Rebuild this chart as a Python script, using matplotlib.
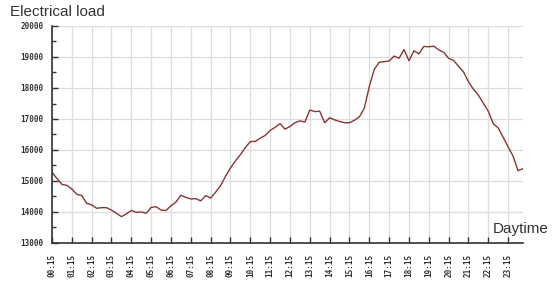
import matplotlib
matplotlib.use("Agg")
import matplotlib.pyplot as plt
from matplotlib.ticker import MultipleLocator
import numpy as np

# quarter-hour time stamps (hours) from 00:15 to 24:00
times = np.arange(1, 97) * 0.25
load = [15280, 15080, 14890, 14860, 14740, 14570, 14530, 14280, 14230, 14120,
        14140, 14140, 14060, 13960, 13850, 13940, 14050, 13990, 14000, 13960,
        14150, 14170, 14060, 14050, 14200, 14320, 14540, 14470, 14420, 14430,
        14360, 14530, 14450, 14640, 14850, 15150, 15420, 15650, 15850, 16080,
        16270, 16280, 16380, 16470, 16630, 16730, 16850, 16670, 16760, 16880,
        16940, 16900, 17290, 17240, 17250, 16880, 17040, 16970, 16920, 16880,
        16880, 16960, 17070, 17350, 18050, 18600, 18830, 18850, 18870, 19030,
        18960, 19240, 18880, 19200, 19100, 19340, 19330, 19350, 19230, 19150,
        18960, 18890, 18700, 18520, 18200, 17960, 17770, 17510, 17250, 16850,
        16710, 16410, 16100, 15800, 15330, 15400]
tick_hours = [h + 0.25 for h in range(24)]
tick_labels = ["%02d:15" % h for h in range(24)]
y_ticks = [13000, 14000, 15000, 16000, 17000, 18000, 19000, 20000]

fig = plt.figure(figsize=(5.6, 2.91), dpi=100)
ax = fig.add_axes([52/560, 1-243/291, (523-52)/560, (243-26)/291])
ax.plot(times, load, color="#8B3434", lw=1.0)
ax.set_xlim(0.25, 24.0)
ax.set_ylim(13000, 20000)
ax.set_xticks(tick_hours)
ax.set_xticklabels(tick_labels, rotation=90, family="DejaVu Sans Mono",
                   fontsize=5.5, fontweight="bold", color="#333333")
ax.set_yticks(y_ticks)
ax.set_yticklabels([str(v) for v in y_ticks], family="DejaVu Sans Mono",
                   fontsize=5.5, fontweight="bold", color="#333333")
ax.yaxis.set_minor_locator(MultipleLocator(500))
ax.tick_params(axis="both", which="major", direction="in", length=4, width=1, pad=6, colors="#333333")
ax.tick_params(axis="y", which="minor", direction="in", length=3, width=1, colors="#333333")
ax.tick_params(axis="x", which="major", pad=8)
ax.grid(True, which="major", color="#dddddd", lw=0.9)
ax.set_axisbelow(True)
for s in ["top", "right"]:
    ax.spines[s].set_visible(False)
for s in ["left", "bottom"]:
    ax.spines[s].set_color("#333333")
    ax.spines[s].set_linewidth(1.2)

fig.text(10/560, 1-16/291, "Electrical load", family="Liberation Sans", fontsize=11,
         color="#333333", va="baseline", ha="left")
fig.text(493/560, 1-233/291, "Daytime", family="Liberation Sans", fontsize=11,
         color="#333333", va="baseline", ha="left")

fig.savefig("out.png", dpi=100)
